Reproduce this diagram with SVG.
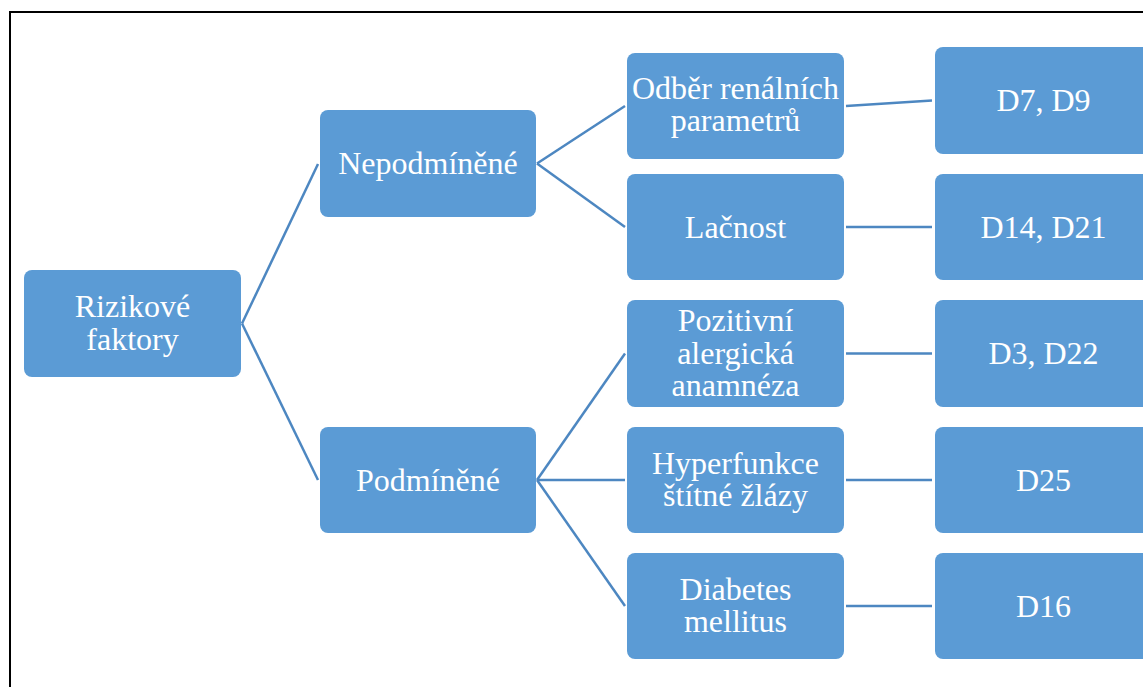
<svg xmlns="http://www.w3.org/2000/svg" width="1143" height="687" viewBox="0 0 1143 687">
<style>
.n{fill:#5b9bd5;}
.t{fill:#ffffff;font-family:"Liberation Serif","Times New Roman",serif;font-size:32px;text-anchor:middle;}
.c{stroke:#4d87c1;stroke-width:2.5;fill:none;}
</style>
<rect x="0" y="0" width="1143" height="687" fill="#ffffff"/>
<rect x="10" y="12" width="1200" height="700" fill="none" stroke="#000000" stroke-width="2"/>
<g id="connectors">
<line class="c" x1="242" y1="323.5" x2="318" y2="164"/>
<line class="c" x1="242" y1="323.5" x2="318" y2="480"/>
<line class="c" x1="537" y1="163.5" x2="625" y2="106"/>
<line class="c" x1="537" y1="163.5" x2="625" y2="227"/>
<line class="c" x1="537" y1="480" x2="625" y2="353.5"/>
<line class="c" x1="537" y1="480" x2="625" y2="480"/>
<line class="c" x1="537" y1="480" x2="625" y2="606"/>
<line class="c" x1="846" y1="106" x2="932" y2="100.5"/>
<line class="c" x1="846" y1="227" x2="932" y2="227"/>
<line class="c" x1="846" y1="353.5" x2="932" y2="353.5"/>
<line class="c" x1="846" y1="480" x2="932" y2="480"/>
<line class="c" x1="846" y1="606" x2="932" y2="606"/>
</g>
<g id="root">
<rect class="n" x="24" y="270" width="217" height="107" rx="8"/>
<text class="t" x="132.5" y="317">Rizikové</text>
<text class="t" x="132.5" y="349.5">faktory</text>
</g>
<g id="nepodminene">
<rect class="n" x="320" y="110" width="216" height="107" rx="8"/>
<text class="t" x="428" y="174">Nepodmíněné</text>
</g>
<g id="podminene">
<rect class="n" x="320" y="427" width="216" height="106" rx="8"/>
<text class="t" x="428" y="490.5">Podmíněné</text>
</g>
<g id="odber">
<rect class="n" x="627" y="53" width="217" height="106" rx="8"/>
<text class="t" x="735.5" y="98.5">Odběr renálních</text>
<text class="t" x="735.5" y="131">parametrů</text>
</g>
<g id="lacnost">
<rect class="n" x="627" y="174" width="217" height="106" rx="8"/>
<text class="t" x="735.5" y="237.5">Lačnost</text>
</g>
<g id="pozitivni">
<rect class="n" x="627" y="300" width="217" height="107" rx="8"/>
<text class="t" x="735.5" y="331">Pozitivní</text>
<text class="t" x="735.5" y="363.5">alergická</text>
<text class="t" x="735.5" y="396">anamnéza</text>
</g>
<g id="hyperfunkce">
<rect class="n" x="627" y="427" width="217" height="106" rx="8"/>
<text class="t" x="735.5" y="473.5">Hyperfunkce</text>
<text class="t" x="735.5" y="506">štítné žlázy</text>
</g>
<g id="diabetes">
<rect class="n" x="627" y="553" width="217" height="106" rx="8"/>
<text class="t" x="735.5" y="599.5">Diabetes</text>
<text class="t" x="735.5" y="632">mellitus</text>
</g>
<g id="d7d9">
<rect class="n" x="935" y="47" width="217" height="107" rx="8"/>
<text class="t" x="1043.5" y="111">D7, D9</text>
</g>
<g id="d14d21">
<rect class="n" x="935" y="174" width="217" height="106" rx="8"/>
<text class="t" x="1043.5" y="237.5">D14, D21</text>
</g>
<g id="d3d22">
<rect class="n" x="935" y="300" width="217" height="107" rx="8"/>
<text class="t" x="1043.5" y="364">D3, D22</text>
</g>
<g id="d25">
<rect class="n" x="935" y="427" width="217" height="106" rx="8"/>
<text class="t" x="1043.5" y="490.5">D25</text>
</g>
<g id="d16">
<rect class="n" x="935" y="553" width="217" height="106" rx="8"/>
<text class="t" x="1043.5" y="616.5">D16</text>
</g>
</svg>
